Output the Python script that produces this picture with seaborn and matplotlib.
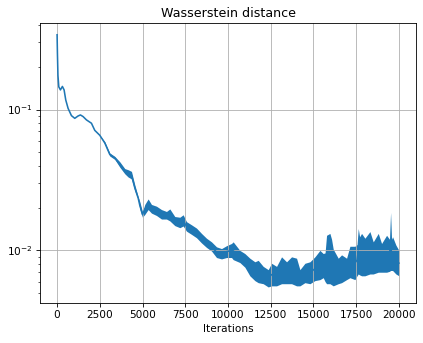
import numpy as np
import pandas as pd
import matplotlib
matplotlib.use("Agg")
import matplotlib.pyplot as plt
import seaborn as sns

# iteration positions and lower / upper envelope of the Wasserstein distance
iters = [0, 20, 50, 100, 195, 310, 410, 507, 644, 839, 1034, 1229, 1366, 1522, 1717,
         2010, 2205, 2498, 2790, 3083, 3376, 3669, 3962, 4157, 4352, 4547, 4743, 4839,
         4995, 5132, 5327, 5522, 5815, 6108, 6400, 6596, 6888, 7181, 7376, 7571, 7864,
         8157, 8450, 8742, 9035, 9328, 9621, 9914, 10206, 10303, 10693, 10986, 11279,
         11572, 11767, 12060, 12353, 12548, 12841, 13134, 13426, 13719, 14012, 14207,
         14500, 14793, 15084, 15377, 15572, 15680, 15767, 15962, 16060, 16157, 16450,
         16645, 16938, 17133, 17426, 17550, 17621, 17700, 17816, 18010, 18303, 18498,
         18791, 18986, 19279, 19450, 19513, 19570, 19630, 19825, 20000]

w_low = [0.340, 0.250, 0.175, 0.145, 0.138, 0.146, 0.138, 0.117, 0.102, 0.0906, 0.0867,
         0.0901, 0.0916, 0.0892, 0.0845, 0.0800, 0.0712, 0.0657, 0.0568, 0.0468, 0.0443,
         0.0390, 0.0350, 0.0332, 0.0322, 0.0265, 0.0230, 0.0197,
         0.0172, 0.0180, 0.0195, 0.0184, 0.0177, 0.0167, 0.0167, 0.0162, 0.0150, 0.0145,
         0.0149, 0.0137, 0.0130, 0.0123, 0.0113, 0.0105, 0.0099, 0.0089, 0.0087, 0.0089,
         0.0089, 0.0086, 0.0082, 0.0076, 0.0066, 0.0061, 0.0059, 0.0058, 0.0055, 0.0056,
         0.0056, 0.0058, 0.0058, 0.0058, 0.0056, 0.0056, 0.0059, 0.0058, 0.0061, 0.0062,
         0.0064, 0.0060, 0.0058, 0.0058, 0.0057, 0.0056, 0.0058,
         0.0059, 0.0062, 0.0064, 0.0062, 0.0066, 0.0068, 0.0067, 0.0066, 0.0066, 0.0068,
         0.0068, 0.0070, 0.0070, 0.0070, 0.0071, 0.0072, 0.0072, 0.0072, 0.0068, 0.0066]

w_high = [0.340, 0.250, 0.175, 0.145, 0.138, 0.146, 0.138, 0.117, 0.102, 0.0906, 0.0867,
          0.0901, 0.0916, 0.0892, 0.0845, 0.0800, 0.0712, 0.0657, 0.0592, 0.0492, 0.0465,
          0.0426, 0.0381, 0.0374, 0.0364, 0.0292, 0.0241, 0.0222,
          0.0188, 0.0212, 0.0232, 0.0212, 0.0206, 0.0195, 0.0189, 0.0197, 0.0174, 0.0172,
          0.0179, 0.0160, 0.0152, 0.0144, 0.0132, 0.0122, 0.0115, 0.0106, 0.0103, 0.0108,
          0.0112, 0.0115, 0.0100, 0.0095, 0.0088, 0.0083, 0.0085, 0.0077, 0.0073, 0.0081,
          0.0077, 0.0090, 0.0083, 0.0090, 0.0088, 0.0073, 0.0081, 0.0083, 0.0090, 0.0100,
          0.0095, 0.0096, 0.0128, 0.0132, 0.0120, 0.0102, 0.0088,
          0.0093, 0.0088, 0.0107, 0.0107, 0.0110, 0.0143, 0.0125, 0.0132, 0.0122, 0.0136,
          0.0115, 0.0132, 0.0112, 0.0128, 0.0120, 0.0186, 0.0120, 0.0125, 0.0109, 0.0100]

df = pd.DataFrame({
    "Iterations": iters + iters,
    "W": w_low + w_high,
})

DPI = 75.8
fig = plt.figure(figsize=(423 / DPI, 343 / DPI), dpi=DPI)
ax = fig.add_axes([40 / 423, 1 - 302.5 / 343, 376 / 423, 279.5 / 343])
ax.set_yscale("log")
sns.lineplot(data=df, x="Iterations", y="W", estimator="mean", errorbar=("pi", 100),
             err_kws=dict(alpha=1, linewidth=0), color="#1f77b4", linewidth=1.5, ax=ax)
ax.set_xticks([0, 2500, 5000, 7500, 10000, 12500, 15000, 17500, 20000])
ax.set_xlim(-1000, 21000)
ax.set_ylim(10 ** -2.37, 10 ** -0.385)
ax.grid(True, which="major", color="#b0b0b0", linewidth=0.8)
ax.set_ylabel("")
ax.set_xlabel("Iterations")
ax.set_title("Wasserstein distance")
fig.savefig("out.png", dpi=DPI)
